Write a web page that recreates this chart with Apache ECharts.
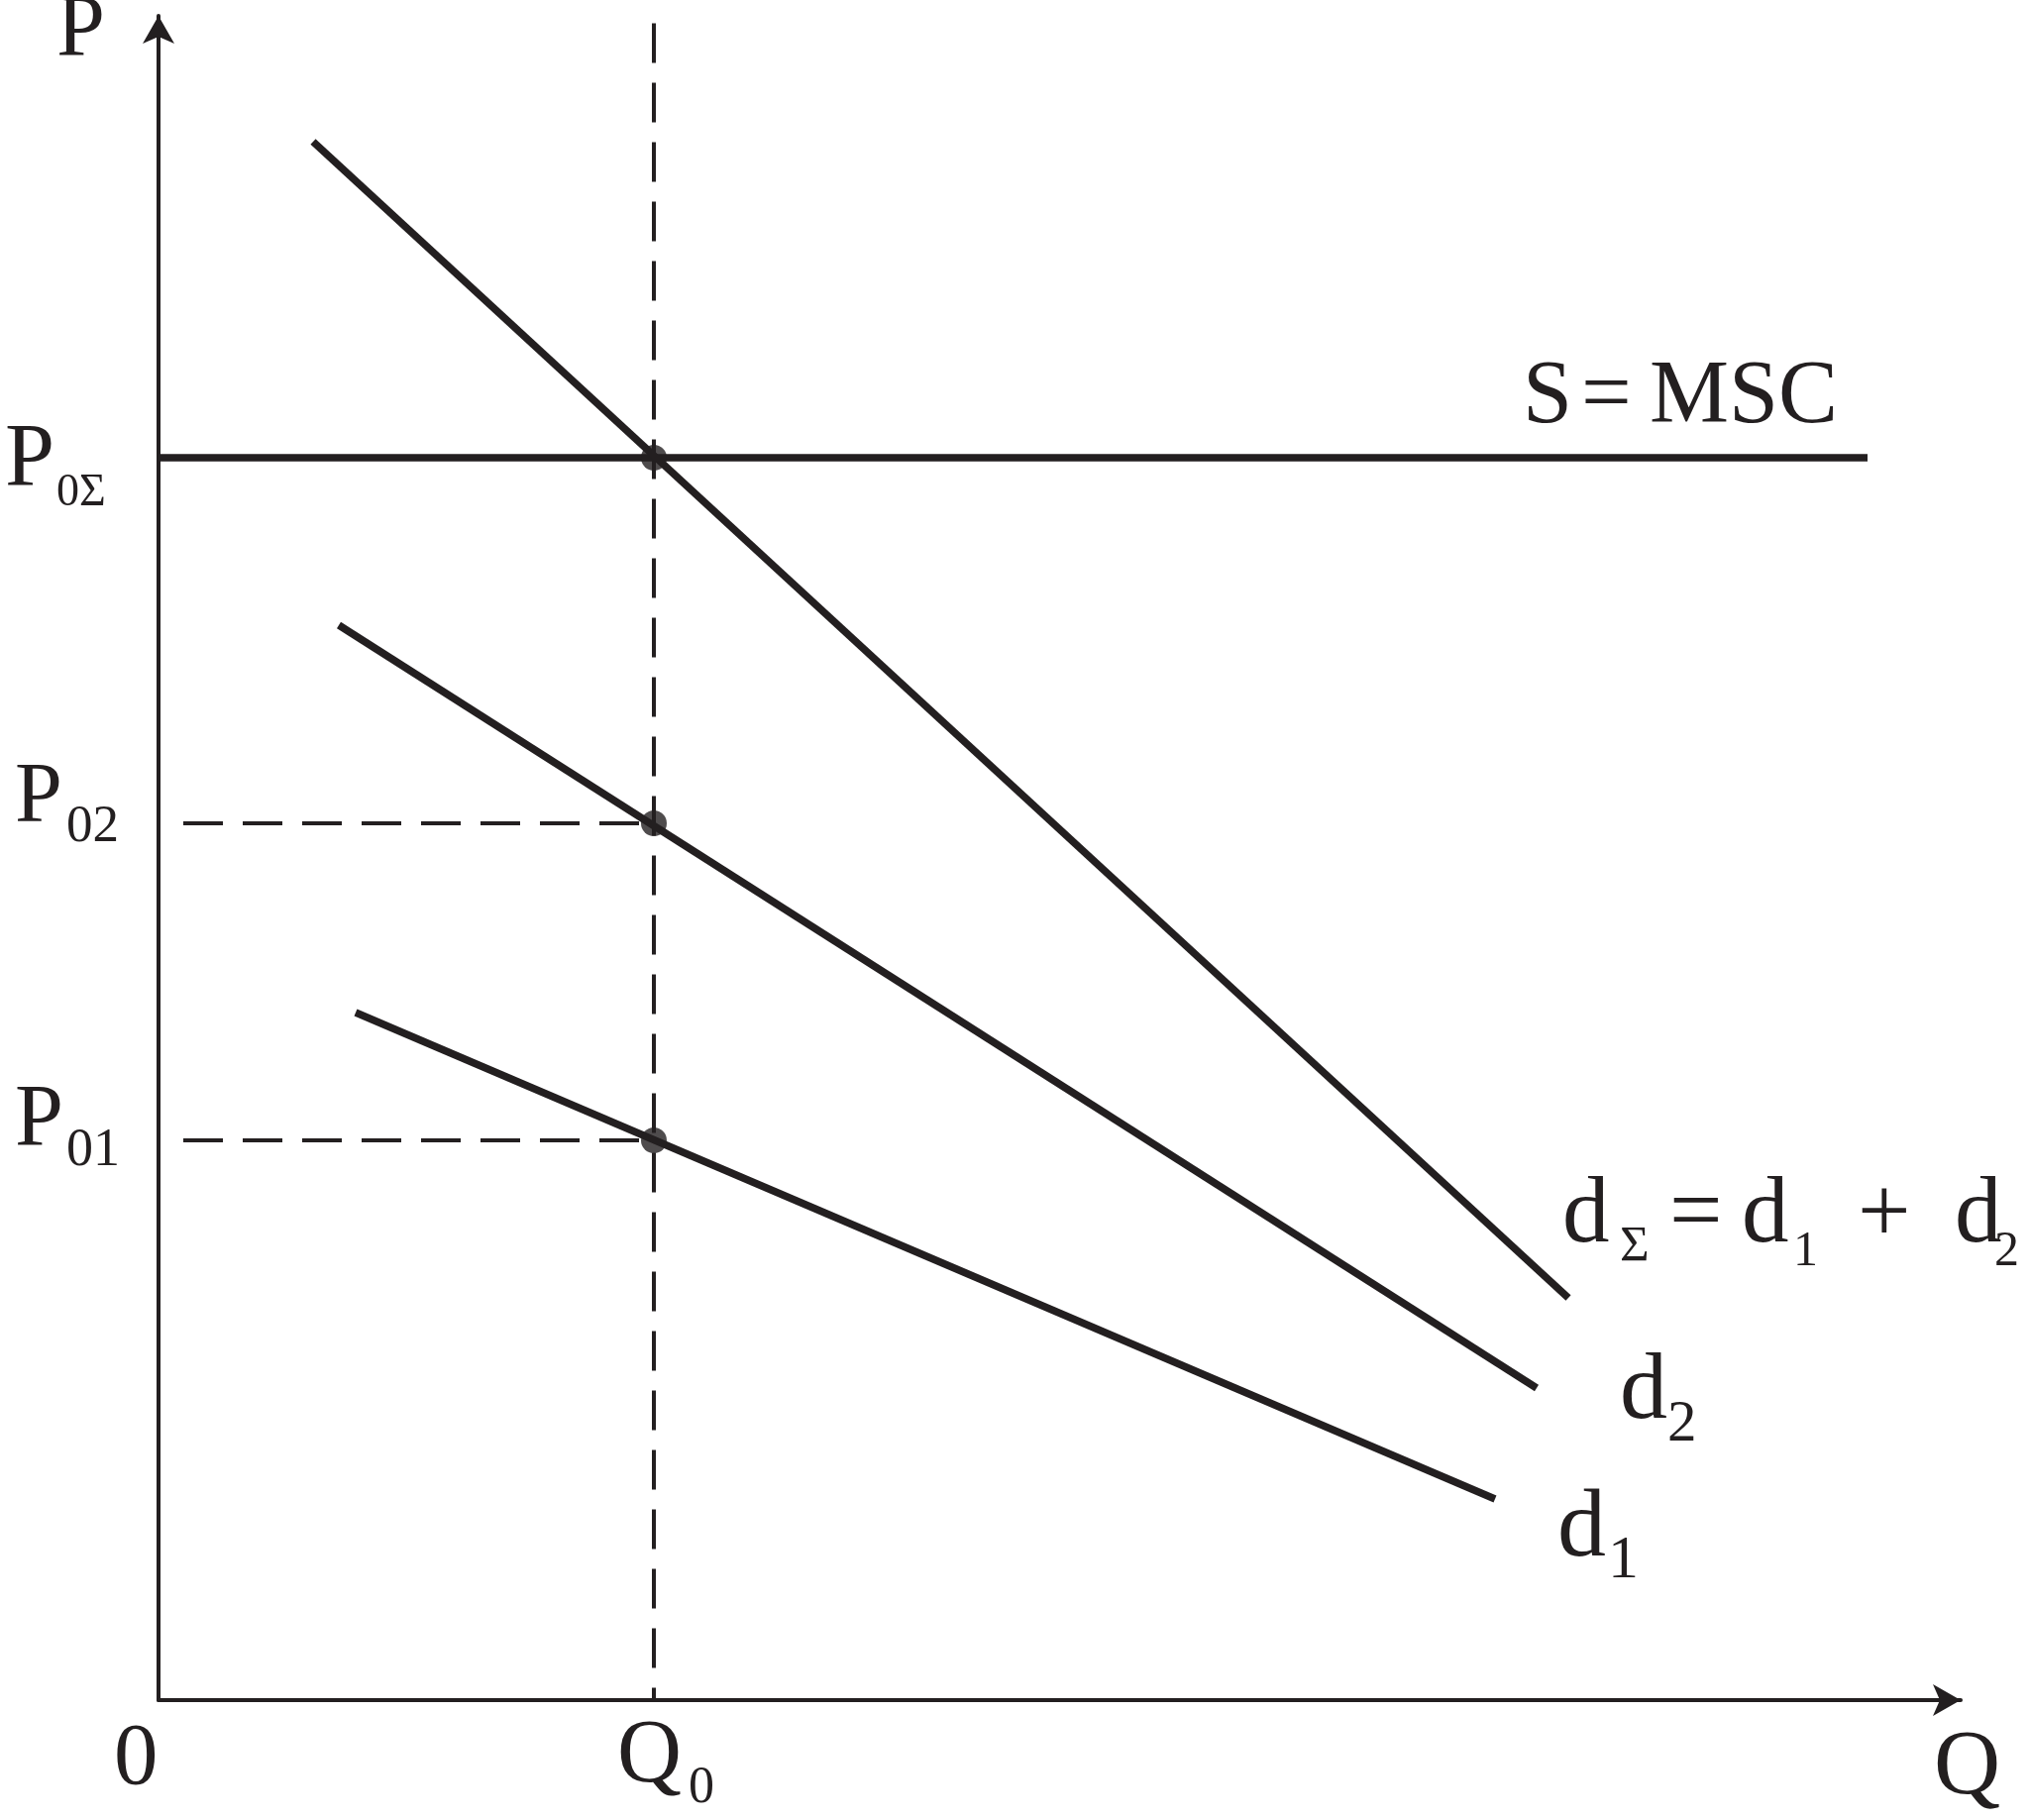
<!DOCTYPE html>
<html>
<head>
<meta charset="utf-8">
<script src="https://cdn.jsdelivr.net/npm/echarts@6/dist/echarts.min.js"></script>
<style>
html,body{margin:0;padding:0;background:#fff;}
#chart{width:2049px;height:1837px;}
</style>
</head>
<body>
<div id="chart"></div>
<script>
// ---- data (arbitrary economic units) ----
const Q0 = 50;
const P0S = 125.4;
const P02 = 88.5;
const P01 = 56.5;
const supplyLine = [[0, 125.4], [172.5, 125.4]];
const dSigma = [[15.6, 157.3], [142.3, 40.6]];
const d2 = [[18.2, 108.5], [139.1, 31.5]];
const d1 = [[19.9, 69.4], [134.9, 20.3]];
const eqPoints = [[Q0, P0S], [Q0, P02], [Q0, P01]];
const q0Guide = [[Q0, 169.25], [Q0, 0]];
const p02Guide = [[2.5, P02], [Q0, P02]];
const p01Guide = [[2.5, P01], [Q0, P01]];
const labelTexts = ['P', 'P', '0Σ', 'P', '02', 'P', '01', '0', 'Q', '0', 'Q',
  'S', '=', 'MSC', 'd', 'Σ', '=', 'd', '1', '+', 'd', '2', 'd', '2', 'd', '1'];

// ---- layout of labels: [x, baseline, fontSize] ----
const labelLayout = [
  [57, 62, 88], [5, 497, 90], [57, 513, 46], [15, 835, 86], [67, 853, 53],
  [15, 1162, 88], [67, 1180, 54], [115, 1807, 89], [623, 1805, 90], [695, 1823, 52],
  [1952, 1817, 93],
  [1537, 433, 90], [1596, 433, 90], [1665, 433, 90],
  [1577, 1260, 95], [1635, 1276, 51], [1685, 1260, 95], [1758, 1260, 95], [1810, 1281, 50],
  [1875, 1260, 95], [1973, 1260, 95], [2013, 1281, 50],
  [1635, 1438, 96], [1683, 1458, 59], [1572, 1577, 98], [1623, 1597, 62]
];

const INK = '#231f20';
const FONT = '"Liberation Serif", "Times New Roman", serif';

const chart = echarts.init(document.getElementById('chart'), null, {renderer: 'canvas'});

function solid(data) {
  return {type: 'line', data: data, symbol: 'none', silent: true, animation: false,
    lineStyle: {color: INK, width: 7.5, cap: 'butt'}};
}
function dashed(data) {
  return {type: 'line', data: data, symbol: 'none', silent: true, animation: false,
    lineStyle: {color: INK, width: 4, type: [40, 20]}};
}

const graphics = labelTexts.map((t, i) => {
  const [x, base, size] = labelLayout[i];
  return {
    type: 'text', silent: true,
    style: {
      text: t, x: x, y: base - 0.3375 * size,
      fontSize: size, fontFamily: FONT, fill: INK,
      align: 'left', verticalAlign: 'middle',
      textAlign: 'left', textVerticalAlign: 'middle'
    }
  };
});

const axisCommon = {
  type: 'value', min: 0,
  axisLine: {show: true, symbol: ['none', 'arrow'], symbolSize: [24, 28],
    lineStyle: {color: INK, width: 4}},
  axisTick: {show: false}, axisLabel: {show: false}, splitLine: {show: false}
};

chart.setOption({
  backgroundColor: '#fff',
  animation: false,
  grid: {left: 160, right: 70, top: 16, bottom: 121, containLabel: false},
  xAxis: Object.assign({}, axisCommon, {max: 181.9}),
  yAxis: Object.assign({}, axisCommon, {max: 170.0}),
  series: [
    dashed(q0Guide),
    dashed(p02Guide),
    dashed(p01Guide),
    solid(supplyLine),
    solid(dSigma),
    solid(d2),
    solid(d1),
    {type: 'scatter', data: eqPoints, symbol: 'circle', symbolSize: 26, silent: true,
      itemStyle: {color: INK}, animation: false, z: 5}
  ],
  graphic: graphics
});
</script>
</body>
</html>
